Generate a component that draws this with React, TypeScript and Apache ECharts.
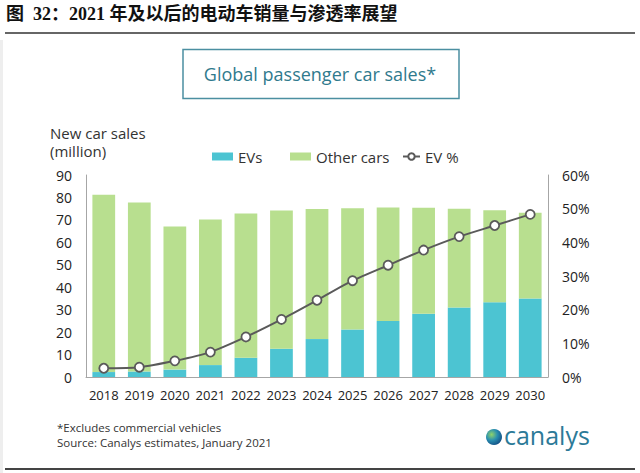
import React, { useEffect, useRef } from "react";
import * as echarts from "echarts";

const years = ["2018", "2019", "2020", "2021", "2022", "2023", "2024", "2025", "2026", "2027", "2028", "2029", "2030"];
const evSales = [2.2, 2.5, 3.3, 5.3, 8.6, 12.6, 16.9, 21.2, 25.0, 28.2, 31.0, 33.3, 35.0];
const otherSales = [79.0, 75.2, 63.7, 64.9, 64.2, 61.6, 58.0, 54.0, 50.5, 47.2, 44.0, 41.0, 38.2];
const evShare = [2.6, 2.9, 4.8, 7.4, 11.9, 17.1, 22.8, 28.6, 33.2, 37.7, 41.7, 45.0, 48.3];
const leftTicks = { min: 0, max: 90, interval: 10 };
const rightTicks = { min: 0, max: 60, interval: 10 };

const FONT = "'Open Sans', 'Noto Sans', sans-serif";
const EV_COLOR = "#4cc4d2";
const OTHER_COLOR = "#b8df8f";
const LINE_COLOR = "#5a5a5a";
const TEAL_TEXT = "#2f7a8d";

export default function App() {
  const ref = useRef<HTMLDivElement>(null);
  useEffect(() => {
    document.body.style.margin = "0";
    const chart = echarts.init(ref.current!, null, { renderer: "svg" });
    const legendText = { fontFamily: FONT, fontSize: 15, color: "#333" };
    chart.setOption({
      animation: false,
      backgroundColor: "#ffffff",
      grid: { left: 86, right: 92, top: 175, bottom: 96, containLabel: false },
      legend: [
        { data: [{ name: "EVs", icon: "rect" }], left: 207, top: 144, itemWidth: 21, itemHeight: 8, itemGap: 4, textStyle: legendText, selectedMode: false },
        { data: [{ name: "Other cars", icon: "rect" }], left: 285, top: 144, itemWidth: 21, itemHeight: 8, textStyle: legendText, selectedMode: false },
        { data: ["EV %"], left: 397, top: 144, itemWidth: 17, itemHeight: 8, textStyle: legendText, selectedMode: false },
      ],
      xAxis: {
        type: "category",
        data: years,
        axisLine: { lineStyle: { color: "#a6a6a6", width: 1 } },
        axisTick: { show: false },
        axisLabel: { fontFamily: FONT, fontSize: 13, color: "#222", margin: 11, interval: 0 },
      },
      yAxis: [
        {
          type: "value",
          ...leftTicks,
          axisLine: { show: true, lineStyle: { color: "#a6a6a6" } },
          axisTick: { show: false },
          splitLine: { show: false },
          axisLabel: { fontFamily: FONT, fontSize: 14, color: "#222", margin: 14 },
        },
        {
          type: "value",
          ...rightTicks,
          position: "right",
          axisLine: { show: true, lineStyle: { color: "#a6a6a6" } },
          axisTick: { show: false },
          splitLine: { show: false },
          axisLabel: { fontFamily: FONT, fontSize: 14, color: "#222", margin: 14, formatter: "{value}%" },
        },
      ],
      series: [
        {
          name: "EVs",
          type: "bar",
          stack: "sales",
          data: evSales,
          barWidth: "64%",
          itemStyle: { color: EV_COLOR },
        },
        {
          name: "Other cars",
          type: "bar",
          stack: "sales",
          data: otherSales,
          barWidth: "64%",
          itemStyle: { color: OTHER_COLOR },
        },
        {
          name: "EV %",
          type: "line",
          yAxisIndex: 1,
          data: evShare,
          smooth: 0.25,
          symbol: "circle",
          symbolSize: 9,
          lineStyle: { color: LINE_COLOR, width: 2 },
          itemStyle: { color: "#ffffff", borderColor: LINE_COLOR, borderWidth: 1.8 },
          z: 5,
        },
      ],
      graphic: [
        { type: "rect", shape: { x: 0, y: 40, width: 3, height: 433 }, style: { fill: "#eeeeee" }, silent: true },
        {
          type: "text",
          left: 6,
          top: 5,
          style: {
            text: "图  32：2021 年及以后的电动车销量与渗透率展望",
            font: "bold 18px 'Liberation Serif', 'Noto Sans CJK SC', serif",
            fill: "#111",
          },
        },
        { type: "line", shape: { x1: 5, y1: 33, x2: 635, y2: 33 }, style: { stroke: "#333", lineWidth: 1.5 } },
        {
          type: "rect",
          shape: { x: 183, y: 49.5, width: 276, height: 49 },
          style: { fill: "none", stroke: "#4b8fa1", lineWidth: 1.5 },
        },
        {
          type: "text",
          x: 320,
          y: 74,
          style: {
            text: "Global passenger car sales*",
            font: `18px ${FONT}`,
            fill: TEAL_TEXT,
            align: "center",
            verticalAlign: "middle",
          },
        },
        {
          type: "text",
          x: 50,
          y: 124,
          style: { text: "New car sales\n(million)", font: `15px ${FONT}`, fill: "#333", lineHeight: 18 },
        },
        {
          type: "text",
          x: 57,
          y: 421,
          style: { text: "*Excludes commercial vehicles", font: `11.5px ${FONT}`, fill: "#333" },
        },
        {
          type: "text",
          x: 57,
          y: 436,
          style: { text: "Source: Canalys estimates, January 2021", font: `11.5px ${FONT}`, fill: "#333" },
        },
        {
          type: "circle",
          shape: { cx: 494, cy: 437, r: 8 },
          style: {
            fill: {
              type: "radial",
              x: 0.35,
              y: 0.35,
              r: 0.8,
              colorStops: [
                { offset: 0, color: "#8fd36a" },
                { offset: 0.45, color: "#2a8fb0" },
                { offset: 1, color: "#0d3f7a" },
              ],
            },
          },
        },
        {
          type: "text",
          x: 504,
          y: 435,
          style: {
            text: "canalys",
            font: `25px ${FONT}`,
            fill: "#2c7a98",
            verticalAlign: "middle",
          },
        },
        { type: "line", shape: { x1: 5, y1: 469, x2: 635, y2: 469 }, style: { stroke: "#444", lineWidth: 2 } },
      ],
    });
    return () => chart.dispose();
  }, []);
  return <div ref={ref} style={{ width: 640, height: 473 }} />;
}
